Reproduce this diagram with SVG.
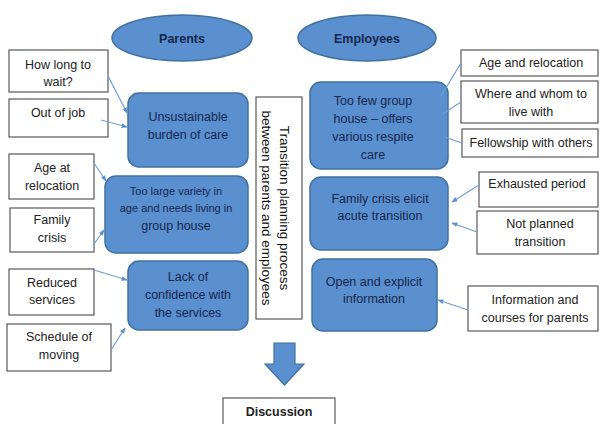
<svg xmlns="http://www.w3.org/2000/svg" width="600" height="424" viewBox="0 0 600 424">
<defs>
<style>
.wb{fill:#fff;stroke:#595959;stroke-width:1.2}
.bb{fill:#5a8fd0;stroke:#41719c;stroke-width:1.5}
.el{fill:#5a8fd0;stroke:#41719c;stroke-width:1.5}
.t{font-family:"Liberation Sans",Arial,sans-serif;font-size:12.5px;fill:#222;text-anchor:middle}
.tb{font-family:"Liberation Sans",Arial,sans-serif;font-size:12.5px;fill:#17264a;text-anchor:middle}
.ts{font-size:11px}
.bold{font-weight:bold}
.c{stroke:#6f9fd8;stroke-width:1.2;fill:none;marker-end:url(#ah)}
</style>
<marker id="ah" viewBox="0 0 10 10" refX="9" refY="5" markerWidth="6" markerHeight="6" orient="auto" markerUnits="userSpaceOnUse">
<path d="M0,1 L10,5 L0,9 z" fill="#5a8fd0"/>
</marker>
</defs>
<rect width="600" height="424" fill="#fff"/>

<g id="parents"><ellipse class="el" cx="182" cy="38" rx="70" ry="23"/><text class="tb bold" x="182" y="43">Parents</text></g>
<g id="employees"><ellipse class="el" cx="367" cy="38" rx="69" ry="23"/><text class="tb bold" x="367" y="43">Employees</text></g>

<g id="how-long"><rect class="wb" x="9" y="50" width="99" height="42"/><text class="t" x="58" y="69">How long to</text><text class="t" x="58" y="86">wait?</text></g>
<g id="out-of-job"><rect class="wb" x="9" y="99" width="99" height="38"/><text class="t" x="58" y="117">Out of job</text></g>
<g id="age-at-relocation"><rect class="wb" x="9" y="154" width="85" height="45"/><text class="t" x="52" y="172">Age at</text><text class="t" x="52" y="190">relocation</text></g>
<g id="family-crisis"><rect class="wb" x="10" y="208" width="84" height="44"/><text class="t" x="52" y="224">Family</text><text class="t" x="52" y="242">crisis</text></g>
<g id="reduced-services"><rect class="wb" x="9" y="269" width="85" height="46"/><text class="t" x="52" y="287">Reduced</text><text class="t" x="52" y="304">services</text></g>
<g id="schedule"><rect class="wb" x="7" y="324" width="104" height="47"/><text class="t" x="59" y="341">Schedule of</text><text class="t" x="59" y="359">moving</text></g>

<g id="unsustainable"><rect class="bb" x="128" y="93" width="120" height="74" rx="11"/><text class="tb" x="188" y="121">Unsustainable</text><text class="tb" x="188" y="139">burden of care</text></g>
<g id="too-large"><rect class="bb" x="105" y="176" width="143" height="77" rx="11"/><text class="tb ts" x="176" y="195">Too large variety in</text><text class="tb ts" x="176" y="212">age and needs living in</text><text class="tb" x="176" y="230">group house</text></g>
<g id="lack-of-confidence"><rect class="bb" x="128" y="261" width="120" height="69" rx="11"/><text class="tb" x="188" y="281">Lack of</text><text class="tb" x="188" y="299">confidence with</text><text class="tb" x="188" y="317">the services</text></g>

<g id="transition"><rect class="wb" x="256" y="97" width="46" height="222"/>
<text class="t" transform="translate(208 208) rotate(90)" x="0" y="-72" style="font-size:13.5px;fill:#111">Transition planning process</text>
<text class="t" transform="translate(208 208) rotate(90)" x="0" y="-54" style="font-size:13.5px;fill:#111">between parents and employees</text>
</g>

<g id="too-few"><rect class="bb" x="310" y="82" width="138" height="87" rx="11"/><text class="tb" x="373" y="105">Too few group</text><text class="tb" x="373" y="123">house – offers</text><text class="tb" x="373" y="141">various respite</text><text class="tb" x="373" y="159">care</text></g>
<g id="family-crisis-elicit"><rect class="bb" x="310" y="177" width="138" height="73" rx="11"/><text class="tb" x="380" y="203">Family crisis elicit</text><text class="tb" x="380" y="220">acute transition</text></g>
<g id="open-explicit"><rect class="bb" x="312" y="259" width="125" height="72" rx="11"/><text class="tb" x="374" y="286">Open and explicit</text><text class="tb" x="374" y="303">information</text></g>

<g id="age-relocation"><rect class="wb" x="461" y="50" width="137" height="26"/><text class="t" x="531" y="67">Age and relocation</text></g>
<g id="where-whom"><rect class="wb" x="461" y="81" width="137" height="42"/><text class="t" x="531" y="98">Where and whom to</text><text class="t" x="531" y="116">live with</text></g>
<g id="fellowship"><rect class="wb" x="462" y="129" width="136" height="28"/><text class="t" x="531" y="147">Fellowship with others</text></g>
<g id="exhausted"><rect class="wb" x="479" y="172" width="119" height="35"/><text class="t" x="537" y="188">Exhausted period</text></g>
<g id="not-planned"><rect class="wb" x="477" y="211" width="121" height="43"/><text class="t" x="540" y="228">Not planned</text><text class="t" x="540" y="246">transition</text></g>
<g id="info-courses"><rect class="wb" x="468" y="286" width="130" height="45"/><text class="t" x="535" y="304">Information and</text><text class="t" x="535" y="322">courses for parents</text></g>

<g id="down-arrow"><path d="M274,343 H295 V364 H304 L284.5,385 L265,364 H274 Z" fill="#5a8fd0" stroke="#41719c" stroke-width="1.2"/></g>
<g id="discussion"><rect class="wb" x="223" y="398" width="112" height="30"/><text class="t bold" x="279" y="416">Discussion</text></g>

<g id="connectors">
<line class="c" x1="108" y1="76" x2="127" y2="113"/>
<line class="c" x1="101" y1="120" x2="127" y2="127"/>
<line class="c" x1="94" y1="163" x2="106" y2="181"/>
<line class="c" x1="94" y1="244" x2="104" y2="230"/>
<line class="c" x1="94" y1="270" x2="127" y2="280"/>
<line class="c" x1="111" y1="350" x2="125" y2="328"/>
<line class="c" x1="461" y1="63" x2="438" y2="101"/>
<line class="c" x1="461" y1="102" x2="438" y2="117"/>
<line class="c" x1="462" y1="143" x2="439" y2="135"/>
<line class="c" x1="479" y1="185" x2="452" y2="202"/>
<line class="c" x1="477" y1="232" x2="452" y2="223"/>
<line class="c" x1="468" y1="310" x2="438" y2="300"/>
</g>
</svg>
